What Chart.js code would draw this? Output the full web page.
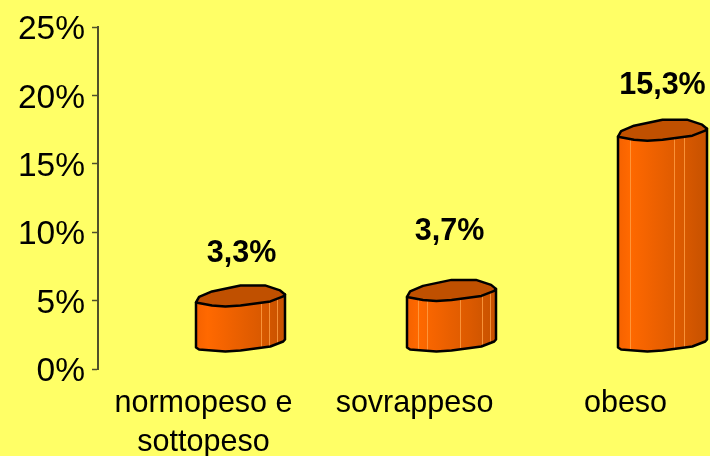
<!DOCTYPE html>
<html><head><meta charset="utf-8">
<style>html,body{margin:0;padding:0;background:#FFFF66;overflow:hidden;width:710px;height:456px}canvas{display:block}</style>
<script src="https://cdn.jsdelivr.net/npm/chart.js@4"></script></head>
<body><canvas id="c" width="731" height="456"></canvas>
<script>
const categories=[['normopeso e','sottopeso'],'sovrappeso','obeso'];
const values=[3.3,3.7,15.3];
const valueLabels=['3,3%','3,7%','15,3%'];
const yTicks=[0,5,10,15,20,25];
const labelRise=[70,87,74];
const labelShift=[2,-1,1];
const stripes=[[0.73,0.82,0.91],[0.12,0.22,0.6,0.84,0.93],[0.14,0.63,0.74]];
const DEPTH_X=37,DEPTH_Y=25,HEIGHT_K=1.01;
const capTop=[[-1,4],[-.93,-1.5],[-.64,-7],[0,-13],[.55,-13],[.89,-8],[1,-4]];
const capBot=[[1,-4],[.96,-2],[.67,3],[0,7],[-.34,8],[-.64,7],[-1,4]];
const floorBot=[[1,-4],[.96,-2],[.67,3],[0,7],[-.34,8],[-.64,7],[-.93,6],[-1,4]];
const cyl={id:'cyl',afterDatasetsDraw(ch){
  const ctx=ch.ctx,meta=ch.getDatasetMeta(0);
  meta.data.forEach((el,i)=>{
    const hw=el.width/2,cx=el.x+DEPTH_X,yb=el.base-DEPTH_Y,yt=el.base-(el.base-el.y)*HEIGHT_K-DEPTH_Y;
    const g=ctx.createLinearGradient(cx-hw,0,cx+hw,0);
    const stops=[[0,'#F56200'],[.13,'#FF6900'],[.3,'#F56400'],[.5,'#E85F00'],[.7,'#DC5A00'],[.9,'#CD5400'],[1,'#C85200']];
    stops.forEach(s=>g.addColorStop(s[0],s[1]));
    ctx.save();ctx.lineJoin='round';
    const body=new Path2D();
    body.moveTo(cx-hw,yt+4);
    body.lineTo(cx-hw,yb+4);
    floorBot.slice().reverse().forEach(p=>body.lineTo(cx+p[0]*hw,yb+p[1]));
    body.lineTo(cx+hw,yt-4);
    body.closePath();
    ctx.fillStyle=g;ctx.fill(body);
    ctx.save();ctx.clip(body);
    ctx.strokeStyle='rgba(255,160,70,0.8)';ctx.lineWidth=1;
    stripes[i].forEach(f=>{const x=Math.round(cx-hw+f*2*hw)+.5;ctx.beginPath();ctx.moveTo(x,yt);ctx.lineTo(x,yb+10);ctx.stroke();});
    ctx.restore();
    ctx.strokeStyle='#000';ctx.lineWidth=2.5;ctx.stroke(body);
    const cap=new Path2D();
    capTop.forEach((p,k)=>k?cap.lineTo(cx+p[0]*hw,yt+p[1]):cap.moveTo(cx+p[0]*hw,yt+p[1]));
    capBot.forEach(p=>cap.lineTo(cx+p[0]*hw,yt+p[1]));
    cap.closePath();
    ctx.fillStyle='#C05000';ctx.fill(cap);ctx.stroke(cap);
    ctx.fillStyle='#000';ctx.font='bold 30.5px "Liberation Sans"';ctx.textAlign='center';ctx.textBaseline='middle';
    ctx.fillText(valueLabels[i],cx+labelShift[i]-1,el.y-labelRise[i]);
    ctx.restore();
  });
}};
new Chart(document.getElementById('c'),{
  type:'bar',
  data:{labels:categories,datasets:[{data:values,backgroundColor:'rgba(0,0,0,0)',barThickness:89}]},
  plugins:[cyl],
  options:{responsive:false,animation:false,
    layout:{padding:{top:27,right:0,left:0,bottom:0}},
    plugins:{legend:{display:false},tooltip:{enabled:false}},
    scales:{
      x:{afterFit(s){s.height=87;},border:{display:false},grid:{display:false},
         ticks:{color:'#000',font:{family:'Liberation Sans',size:30.5,lineHeight:1.27},padding:7,maxRotation:0,autoSkip:false}},
      y:{min:0,max:25,afterFit(s){s.width=98;},border:{display:true,color:'#50502A',width:2},
         grid:{drawOnChartArea:false,drawTicks:true,tickLength:6,color:'#50502A',tickWidth:1.5},
         afterBuildTicks(s){s.ticks=yTicks.map(v=>({value:v}));},
         ticks:{color:'#000',font:{family:'Liberation Sans',size:33.5},padding:7,labelOffset:3,callback:v=>v+'%'}}
    }}
});
</script></body></html>
